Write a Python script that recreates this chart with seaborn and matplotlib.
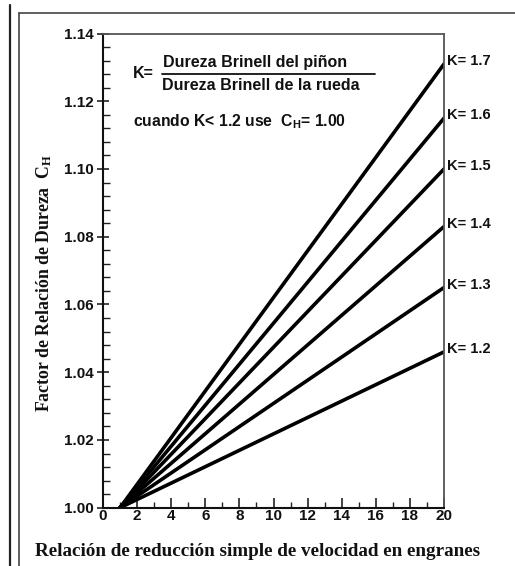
import numpy as np
import pandas as pd
import matplotlib
matplotlib.use("Agg")
import matplotlib.pyplot as plt
from matplotlib.lines import Line2D
from matplotlib.ticker import MultipleLocator
import seaborn as sns

# Hardness ratio K of each curve and the hardness-ratio factor C_H
# read at the start (ratio 1) and end (ratio 20) of each line
k_values = [1.2, 1.3, 1.4, 1.5, 1.6, 1.7]
ratio_start = 1.0
ratio_end = 20.0
ch_start = [1.000, 1.000, 1.000, 1.000, 1.000, 1.000]
ch_end = [1.046, 1.065, 1.083, 1.100, 1.115, 1.131]
curve_labels = ["K= 1.2", "K= 1.3", "K= 1.4", "K= 1.5", "K= 1.6", "K= 1.7"]

x_ticks = [0, 2, 4, 6, 8, 10, 12, 14, 16, 18, 20]
y_ticks = [1.00, 1.02, 1.04, 1.06, 1.08, 1.10, 1.12, 1.14]

rows = []
for k, y0, y1 in zip(k_values, ch_start, ch_end):
    rows.append({"ratio": ratio_start, "CH": y0, "K": k})
    rows.append({"ratio": ratio_end, "CH": y1, "K": k})
df = pd.DataFrame(rows)

sns.set_theme(style="white")
plt.rcParams["font.family"] = ["Liberation Sans", "DejaVu Sans"]
plt.rcParams["mathtext.fontset"] = "custom"
plt.rcParams["mathtext.rm"] = "Liberation Sans:bold"
plt.rcParams["mathtext.bf"] = "Liberation Sans:bold"
plt.rcParams["mathtext.default"] = "regular"

W, H = 515, 566
fig = plt.figure(figsize=(W / 100, H / 100), dpi=100)
fig.patch.set_facecolor("white")


def fx(px):
    return px / W


def fy(py):
    return 1 - py / H


ax = fig.add_axes([fx(103), fy(507.7), fx(444) - fx(103), fy(33.5) - fy(507.7)])
ax.set_facecolor("white")

sns.lineplot(data=df, x="ratio", y="CH", hue="K", units="K", estimator=None,
             palette=["black"] * len(k_values), linewidth=2.6, legend=False, ax=ax,
             solid_capstyle="round")

ax.set_xlim(0, 20)
ax.set_ylim(1.00, 1.14)
ax.set_xticks(x_ticks)
ax.set_yticks(y_ticks)
ax.set_xticklabels([str(t) for t in x_ticks])
ax.set_yticklabels([f"{t:.2f}" for t in y_ticks])
ax.xaxis.set_minor_locator(MultipleLocator(1))
ax.yaxis.set_minor_locator(MultipleLocator(0.004))

for lab in ax.get_xticklabels() + ax.get_yticklabels():
    lab.set_fontweight("bold")
    lab.set_fontsize(11)
    lab.set_color("#111111")

ax.tick_params(axis="y", which="major", direction="inout", length=9, width=1.2,
               color="#222222", pad=2, left=True)
ax.tick_params(axis="y", which="minor", direction="in", length=5, width=1.0,
               color="#222222", left=True)
ax.tick_params(axis="x", which="major", direction="in", length=7, width=1.2,
               color="#222222", pad=1, bottom=True)
ax.tick_params(axis="x", which="minor", direction="in", length=4, width=1.0,
               color="#222222", bottom=True)

for side in ["left", "bottom"]:
    ax.spines[side].set_color("#111111")
    ax.spines[side].set_linewidth(1.5)
for side in ["top", "right"]:
    ax.spines[side].set_color("#555555")
    ax.spines[side].set_linewidth(1.3)

ax.set_xlabel("")
ax.set_ylabel("")

# Curve labels at the right end of each line
for lab, y1 in zip(curve_labels, ch_end):
    ax.annotate(lab, xy=(ratio_end, y1), xytext=(2, 2), textcoords="offset points",
                ha="left", va="center", fontsize=10.5, fontweight="bold",
                color="#111111", annotation_clip=False)

# Axis titles in a bold serif face
fig.text(fx(258), fy(551), "Relación de reducción simple de velocidad en engranes",
         ha="center", va="center", fontsize=13.8, fontweight="bold",
         family=["Liberation Serif", "DejaVu Serif"], color="#111111")
fig.text(fx(44), fy(283), r"Factor de Relación de Dureza  C$_{H}$",
         ha="center", va="center", rotation=90, fontsize=12.8, fontweight="bold",
         family=["Liberation Serif", "DejaVu Serif"], color="#111111")

# Definition of K and the note for K < 1.2
fig.text(fx(133), fy(73), "K=", ha="left", va="center", fontsize=11.5,
         fontweight="bold", color="#111111")
fig.text(fx(163), fy(63), "Dureza Brinell del piñon", ha="left", va="center",
         fontsize=11.5, fontweight="bold", color="#111111")
fig.text(fx(162), fy(85), "Dureza Brinell de la rueda", ha="left", va="center",
         fontsize=11.5, fontweight="bold", color="#111111")
fig.add_artist(Line2D([fx(162), fx(375)], [fy(73.5), fy(73.5)], color="#111111",
                      linewidth=1.3))
fig.text(fx(133), fy(122), r"cuando K< 1.2 use  C$_{H}$= 1.00", ha="left",
         va="center", fontsize=11.3, fontweight="bold", color="#111111")

# Page frame lines around the chart
fig.add_artist(Line2D([fx(10), fx(10)], [fy(5), fy(566)], color="#222222", linewidth=1.6))
fig.add_artist(Line2D([fx(19), fx(19)], [fy(13), fy(566)], color="#444444", linewidth=1.2))
fig.add_artist(Line2D([fx(19), fx(515)], [fy(13), fy(13)], color="#444444", linewidth=1.2))

fig.savefig("out.png", dpi=100, facecolor="white")
